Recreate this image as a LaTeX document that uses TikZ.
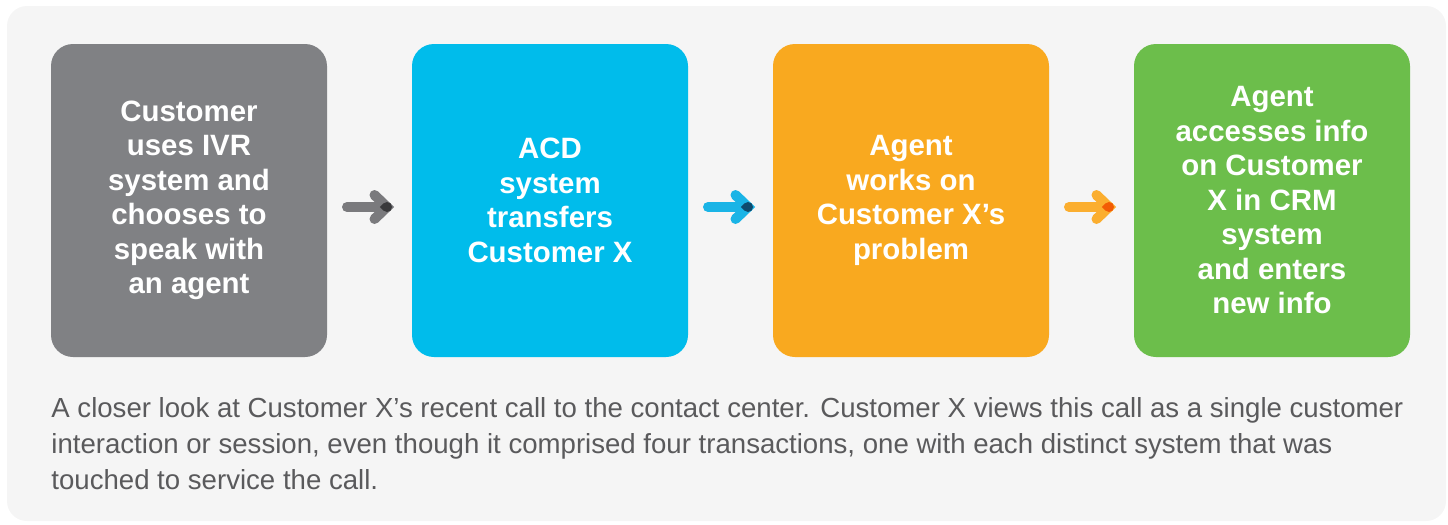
\documentclass[tikz,border=0pt]{standalone}
\usepackage{fontspec}
\setmainfont{Liberation Sans}
\usetikzlibrary{positioning,calc}
\definecolor{panelbg}{HTML}{F5F5F5}
\definecolor{boxgray}{HTML}{808184}
\definecolor{boxblue}{HTML}{00BCEB}
\definecolor{boxorange}{HTML}{F9A91F}
\definecolor{boxgreen}{HTML}{6CBE4B}
\definecolor{arrgray}{HTML}{7A7A7D}
\definecolor{tipgray}{HTML}{3A3A3C}
\definecolor{arrblue}{HTML}{1AB4E6}
\definecolor{tipblue}{HTML}{0E4B6E}
\definecolor{arrorange}{HTML}{FBAE2F}
\definecolor{tiporange}{HTML}{F25C05}
\definecolor{captext}{HTML}{5A5A5C}
\tikzset{
  stage/.style={rounded corners=11pt,minimum width=138pt,minimum height=156.5pt,inner sep=0pt,outer sep=0pt,
    text=white,align=center,font=\bfseries\fontsize{14.7}{17.25}\selectfont},
  flow/.style={line width=5pt,line cap=round}
}

\begin{document}
\begin{tikzpicture}[x=0.5pt,y=-0.5pt]
\useasboundingbox (0,0) rectangle (1448,525);
\fill[panelbg,rounded corners=10pt] (7,6) rectangle (1446,521);
\node[stage,fill=boxgray] (ivr) at (189,200.5) {Customer\\uses IVR\\system and\\chooses to\\speak with\\an agent};
\node[stage,fill=boxblue,right=42.5pt of ivr] (acd) {ACD\\system\\transfers\\Customer X};
\node[stage,fill=boxorange,right=42.5pt of acd] (agent) {Agent\\works on\\Customer X’s\\problem};
\node[stage,fill=boxgreen,right=42.5pt of agent] (crm) {Agent\\accesses info\\on Customer\\X in CRM\\system\\and enters\\new info};
%arrows between the stages
\foreach \a/\b/\c/\t in {ivr/acd/arrgray/tipgray,acd/agent/arrblue/tipblue,agent/crm/arrorange/tiporange}{
  \coordinate (tail) at ($(\a.east)+(20,6.5)$);
  \coordinate (tip) at ($(\b.west)+(-25,6.5)$);
  \draw[flow,\c] (tail)--(tip);
  \draw[flow,\c] ($(tip)+(-12.5,-12)$)--(tip)--($(tip)+(-12.5,12)$);
  \fill[\t] (tip) circle (5) ($(tip)+(-7.07,0)$)--($(tip)+(-3.54,-3.54)$)--($(tip)+(-3.54,3.54)$)--cycle;
}
\node[anchor=base west,align=left,inner sep=0pt,text=captext,font=\fontsize{13.8}{18}\selectfont] (cap) at (51,489)
  {A closer look at Customer X’s recent call to the contact center. Customer X views this call as a single customer\\
   interaction or session, even though it comprised four transactions, one with each distinct system that was\\
   touched to service the call.};
\end{tikzpicture}
\end{document}
